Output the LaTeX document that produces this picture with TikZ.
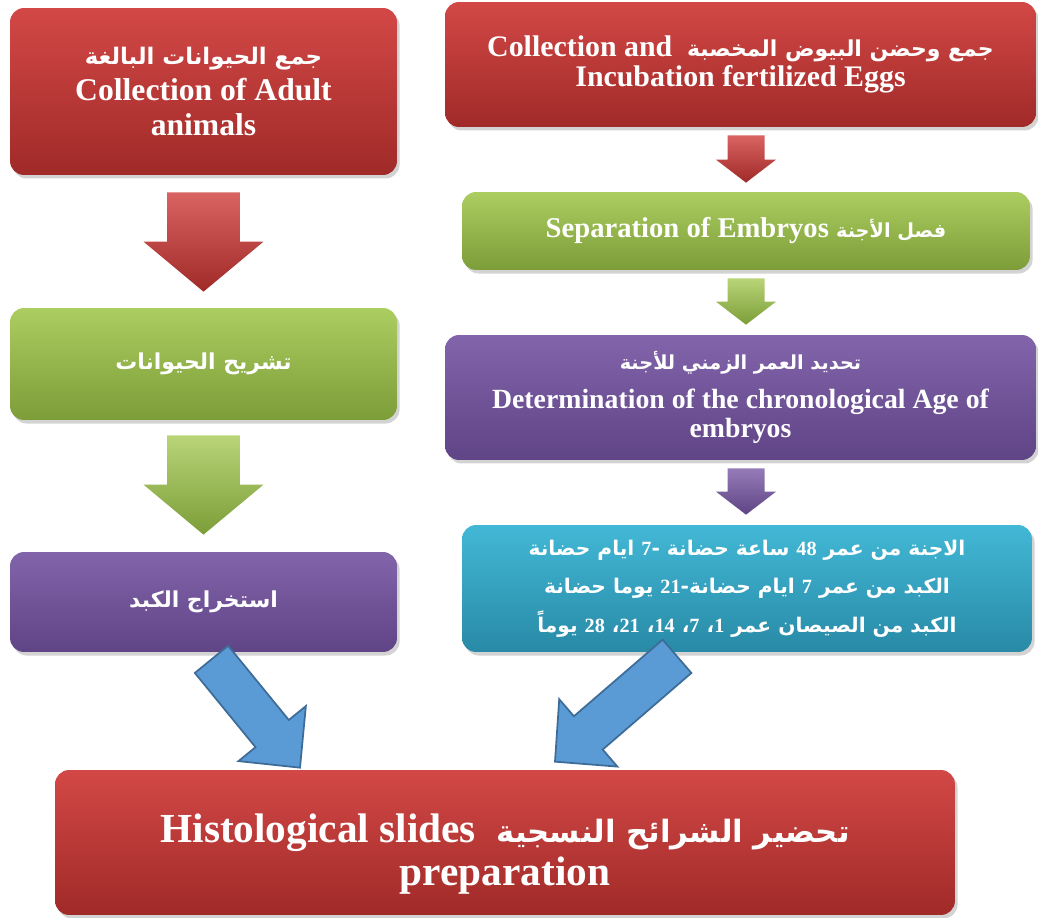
\documentclass[tikz,border=0pt]{standalone}
\usepackage{fontspec}
\setmainfont{Liberation Serif}
\newfontfamily\arabicfont[Script=Arabic]{DejaVu Sans}
\TeXXeTstate=1
\usetikzlibrary{calc,shadows}
\usepackage{xcolor}
\definecolor{redTop}{RGB}{210,72,70}
\definecolor{redBot}{RGB}{160,42,40}
\definecolor{greenTop}{RGB}{172,205,96}
\definecolor{greenBot}{RGB}{124,157,56}
\definecolor{purpleTop}{RGB}{130,100,170}
\definecolor{purpleBot}{RGB}{95,68,134}
\definecolor{cyanTop}{RGB}{66,184,214}
\definecolor{cyanBot}{RGB}{40,138,166}
\definecolor{blueFill}{RGB}{91,155,213}
\definecolor{blueEdge}{RGB}{62,108,152}

% arabic run and latin number inside it
\newcommand\artext[1]{{\arabicfont\beginR #1\endR}}
\newcommand\ennum[1]{{\rmfamily\beginL #1\endL}}

% block arrow: [style] {start} {tip} {shaft half} {head half} {head length}
\newcommand\blockarrow[6][]{%
  \coordinate (ba-s) at #2;
  \coordinate (ba-e) at #3;
  \coordinate (ba-h) at ($(ba-e)!#6!(ba-s)$);
  \path[#1] ($(ba-s)!#4!90:(ba-e)$) -- ($(ba-h)!#4!90:(ba-e)$)
    -- ($(ba-h)!#5!90:(ba-e)$) -- (ba-e) -- ($(ba-h)!#5!-90:(ba-e)$)
    -- ($(ba-h)!#4!-90:(ba-e)$) -- ($(ba-s)!#4!-90:(ba-e)$) -- cycle;
}

\begin{document}
\begin{tikzpicture}[
    x=0.02cm, y=-0.02cm,
    every node/.style={text=white},
    stage/.style={rounded corners=8pt, align=center, inner sep=2pt,
      drop shadow={opacity=0.35, shadow xshift=1.5pt, shadow yshift=-2pt}},
    red stage/.style={stage, top color=redTop, bottom color=redBot},
    green stage/.style={stage, top color=greenTop, bottom color=greenBot},
    purple stage/.style={stage, top color=purpleTop, bottom color=purpleBot},
    cyan stage/.style={stage, top color=cyanTop, bottom color=cyanBot},
    red block/.style={top color=redTop!85!white, bottom color=redBot},
    green block/.style={top color=greenTop!85!white, bottom color=greenBot},
    purple block/.style={top color=purpleTop!85!white, bottom color=purpleBot},
    blue block/.style={fill=blueFill, draw=blueEdge, line width=1pt},
  ]
  \useasboundingbox (0,0) rectangle (1038,918);

  % --- Left column: adult animals ---
  \node[red stage, minimum width=7.74cm, minimum height=3.34cm,
    font=\bfseries\fontsize{18}{20}\selectfont] (adult) at (203.5,91.5)
    {\artext{\fontsize{13}{20}\selectfont جمع الحيوانات البالغة}\\
     Collection of Adult\\ animals};
  \node[green stage, minimum width=7.74cm, minimum height=2.24cm,
    font=\bfseries\fontsize{12.5}{18}\selectfont] (dissect) at (203.5,364)
    {\artext{تشريح الحيوانات}};
  \node[purple stage, minimum width=7.74cm, minimum height=2.0cm,
    font=\bfseries\fontsize{12.5}{18}\selectfont] (liver) at (203.5,602)
    {\artext{استخراج الكبد}};

  % --- Right column: embryos ---
  \node[red stage, minimum width=11.82cm, minimum height=2.5cm,
    font=\bfseries\fontsize{17}{17.5}\selectfont] (eggs) at (740.5,64.5)
    {Collection and\ \ \artext{\fontsize{12.5}{17.5}\selectfont جمع وحضن البيوض المخصبة}\\
     Incubation fertilized Eggs};
  \node[green stage, minimum width=11.36cm, minimum height=1.56cm,
    font=\bfseries\fontsize{16.3}{18}\selectfont] (separate) at (746,231)
    {Separation of Embryos \artext{\fontsize{11}{18}\selectfont فصل الأجنة}};
  \node[purple stage, minimum width=11.82cm, minimum height=2.5cm,
    font=\bfseries\fontsize{15.8}{16.5}\selectfont] (age) at (740.5,397.5)
    {\artext{\fontsize{11}{16.5}\selectfont تحديد العمر الزمني للأجنة}\\[6pt]
     Determination of the chronological Age of\\ embryos};
  \node[cyan stage, minimum width=11.4cm, minimum height=2.54cm,
    font=\bfseries\fontsize{11.5}{22}\selectfont] (stages) at (747,588.5)
    {\artext{الاجنة من عمر \ennum{48} ساعة حضانة -\ennum{7} ايام حضانة}\\
     \artext{الكبد من عمر \ennum{7} ايام حضانة-\ennum{21} يوما حضانة}\\
     \artext{الكبد من الصيصان عمر \ennum{1}، \ennum{7}، \ennum{14}، \ennum{21}، \ennum{28} يوماً}};

  % --- Bottom: slides ---
  \node[red stage, minimum width=18cm, minimum height=2.9cm,
    font=\bfseries\fontsize{23.5}{24.5}\selectfont] (slides) at (505,842.5)
    {\rule{0pt}{30pt}Histological slides\ \ \artext{\fontsize{17.5}{24.5}\selectfont تحضير الشرائح النسجية}\\
     preparation};

  % --- Down arrows, left column ---
  \blockarrow[red block]{($(adult.south)+(0,17)$)}{($(dissect.north)+(0,-16)$)}{0.73cm}{1.2cm}{1.0cm}
  \blockarrow[green block]{($(dissect.south)+(0,15)$)}{($(liver.north)+(0,-17)$)}{0.73cm}{1.2cm}{1.0cm}

  % --- Down arrows, right column ---
  \blockarrow[red block]{($(eggs.south -| separate.north)+(0,8)$)}{($(separate.north)+(0,-9)$)}{0.37cm}{0.6cm}{0.46cm}
  \blockarrow[green block]{($(separate.south)+(0,8)$)}{($(age.north -| separate.north)+(0,-10)$)}{0.37cm}{0.6cm}{0.46cm}
  \blockarrow[purple block]{($(age.south -| separate.south)+(0,8)$)}{($(stages.north -| separate.north)+(0,-10)$)}{0.37cm}{0.6cm}{0.46cm}

  % --- Blue arrows into the slides box ---
  \blockarrow[blue block]{($(liver.south)+(8,7)$)}{($(slides.north)+(-205,-2)$)}{0.43cm}{0.87cm}{0.88cm}
  \blockarrow[blue block]{($(stages.south)+(-70,4)$)}{($(slides.north)+(50,-8)$)}{0.44cm}{0.89cm}{0.88cm}

\end{tikzpicture}
\end{document}
